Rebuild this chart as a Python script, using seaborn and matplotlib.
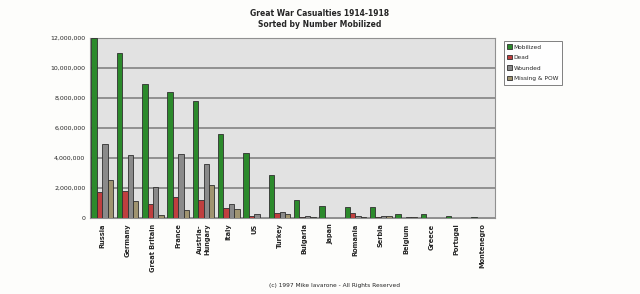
import matplotlib
matplotlib.use("Agg")
import matplotlib.pyplot as plt
import seaborn as sns
import pandas as pd
from matplotlib.ticker import FuncFormatter

countries = ["Russia", "Germany", "Great Britain", "France", "Austria-\nHungary", "Italy", "US",
             "Turkey", "Bulgaria", "Japan", "Romania", "Serbia", "Belgium", "Greece",
             "Portugal", "Montenegro"]
mobilized = [12000000, 11000000, 8904467, 8410000, 7800000, 5615000, 4355000, 2850000,
             1200000, 800000, 750000, 707343, 267000, 230000, 100000, 50000]
dead = [1700000, 1773700, 908371, 1357800, 1200000, 650000, 126000, 325000,
        87500, 300, 335706, 45000, 13716, 5000, 7222, 3000]
wounded = [4950000, 4216058, 2090212, 4266000, 3620000, 947000, 234300, 400000,
           152390, 907, 120000, 133148, 44686, 21000, 13751, 10000]
missing = [2500000, 1152800, 191652, 537000, 2200000, 600000, 4500, 250000,
           27029, 3, 80000, 152958, 34659, 1000, 12318, 7000]
series_names = ["Mobilized", "Dead", "Wounded", "Missing & POW"]
colors = ["#1c9a1c", "#d42a2a", "#8a8a8a", "#a89868"]

rows = []
for name, vals in zip(series_names, [mobilized, dead, wounded, missing]):
    for c, v in zip(countries, vals):
        rows.append({"Country": c, "Series": name, "Value": v})
df = pd.DataFrame(rows)

sns.set_theme(style="white")
plt.rcParams['font.family'] = ['DejaVu Sans']

fig = plt.figure(figsize=(6.4, 2.94), dpi=100)
fig.patch.set_facecolor("#fdfdfb")
ax = fig.add_axes([0.14, 0.259, 0.633, 0.612])
ax.set_facecolor("#e2e2e2")

sns.barplot(data=df, x="Country", y="Value", hue="Series", palette=colors,
            width=0.85, edgecolor="#303030", linewidth=0.6, ax=ax, legend=True, zorder=3)

ax.set_ylim(0, 12000000)
ax.set_yticks(range(0, 12000001, 2000000))
ax.yaxis.set_major_formatter(FuncFormatter(lambda v, p: f"{int(v):,}"))
ax.yaxis.grid(True, color="#7a7a7a", linewidth=1.1, zorder=0)
ax.set_axisbelow(True)
ax.tick_params(axis="y", labelsize=4.5, length=2, pad=1)
ax.tick_params(axis="x", labelsize=4.8, length=2, pad=2, rotation=90)
for lab in ax.get_xticklabels():
    lab.set_fontweight("bold")
ax.set_xlabel("")
ax.set_ylabel("")
for s in ax.spines.values():
    s.set_color("#909090")
    s.set_linewidth(0.8)

leg = ax.legend(loc="upper left", bbox_to_anchor=(1.015, 1.0), fontsize=4.2, frameon=True,
                fancybox=False, edgecolor="#606060", handlelength=0.8, handleheight=0.8,
                borderpad=0.6, labelspacing=0.9, handletextpad=0.3)
leg.get_frame().set_linewidth(0.7)

fig.text(0.5, 0.955, "Great War Casualties 1914-1918", ha="center", va="center",
         fontsize=5.5, fontweight="bold")
fig.text(0.5, 0.918, "Sorted by Number Mobilized", ha="center", va="center",
         fontsize=5.5, fontweight="bold")
fig.text(0.523, 0.028, "(c) 1997 Mike Iavarone - All Rights Reserved", ha="center",
         va="center", fontsize=4.2)

fig.savefig("out.png", dpi=100, facecolor=fig.get_facecolor())
